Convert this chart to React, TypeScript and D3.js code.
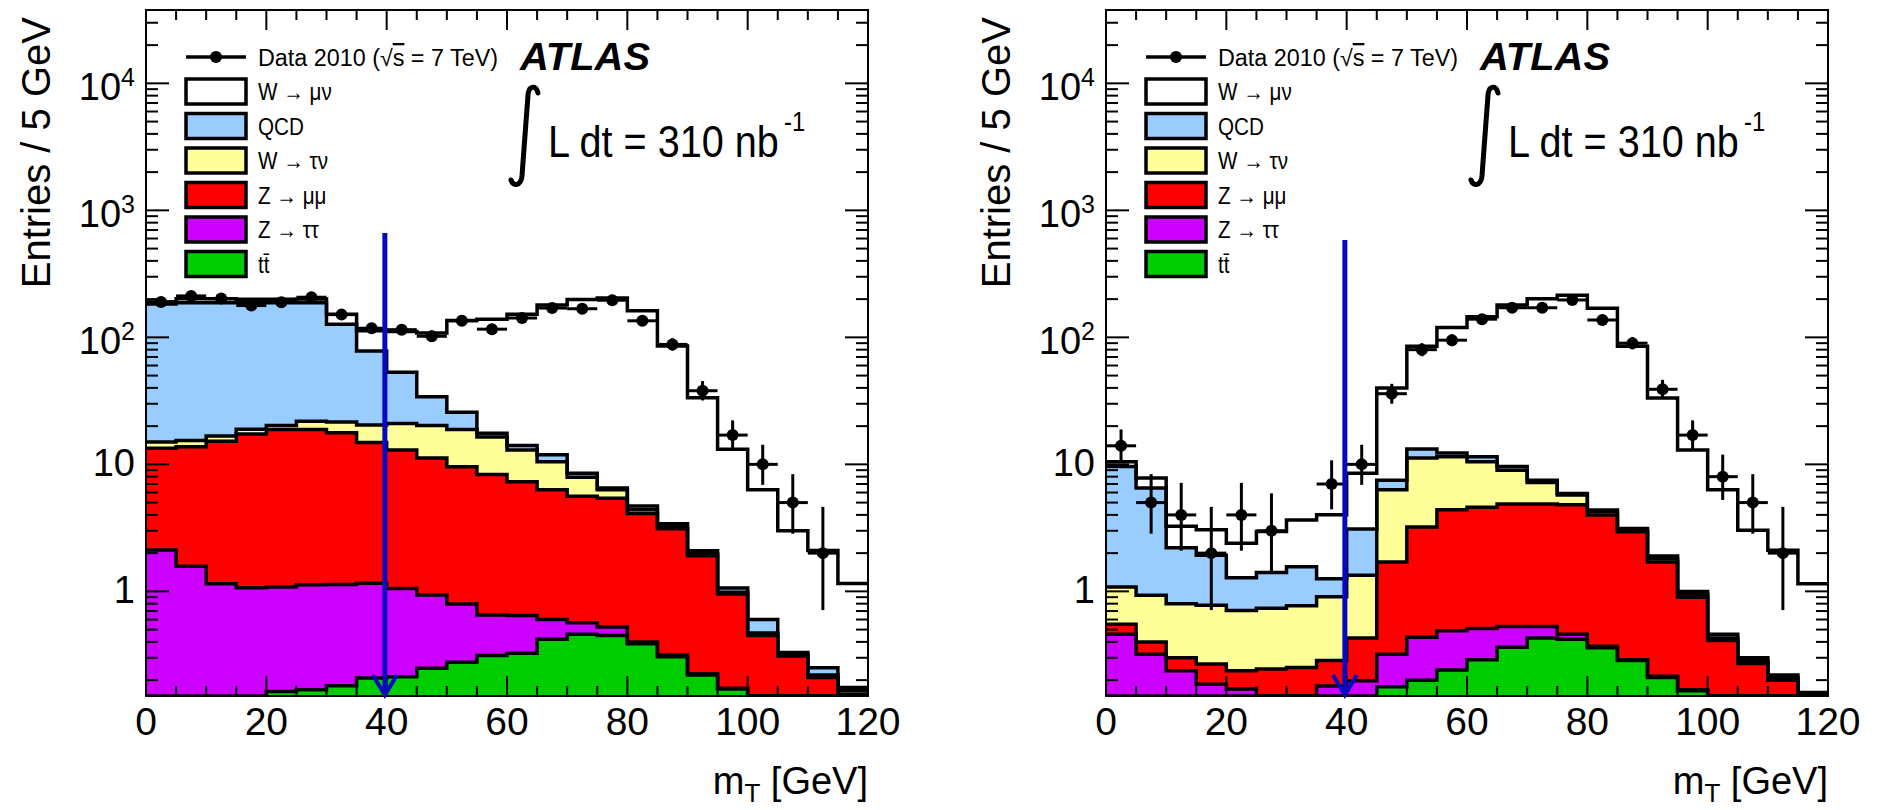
import React from 'react';
import * as d3 from 'd3';

// ---------- data ----------
const BIN_LOW = [0, 5, 10, 15, 20, 25, 30, 35, 40, 45, 50, 55, 60, 65, 70, 75, 80, 85, 90, 95, 100, 105, 110, 115];
const BIN_WIDTH = 5;
const X_TICK_LABELS = [0, 20, 40, 60, 80, 100, 120];
const Y_TICK_LABELS = [
  { v: 1, base: '1', exp: '' },
  { v: 10, base: '10', exp: '' },
  { v: 100, base: '10', exp: '2' },
  { v: 1000, base: '10', exp: '3' },
  { v: 10000, base: '10', exp: '4' },
];

// left panel (stack components, events / 5 GeV)
const ttL = [0, 0, 0, 0, 0.163, 0.168, 0.181, 0.208, 0.213, 0.248, 0.276, 0.312, 0.326, 0.42, 0.46, 0.45, 0.386, 0.306, 0.22, 0.17, 0, 0, 0, 0];
const zttL = [2.12, 1.58, 1.15, 1.07, 0.92, 0.96, 0.95, 0.95, 0.84, 0.69, 0.52, 0.34, 0.32, 0.18, 0.105, 0.075, 0.014, 0.009, 0.005, 0.003, 0.05, 0.05, 0.05, 0.05];
const zmmL = [11.3, 12.2, 14.05, 16.3, 17.7, 17.7, 16.6, 13.7, 11.9, 10.3, 8.8, 7.65, 6.65, 5.7, 5.04, 4.88, 3.7, 2.79, 1.68, 0.78, 0.4, 0.26, 0.16, 0.105];
const wtnL = [1.6, 1.6, 1.5, 1.5, 1.4, 3.0, 3.8, 5.6, 8.0, 9.0, 9.2, 8.1, 5.7, 4.2, 2.3, 0.9, 0.3, 0.15, 0.07, 0.03, 0.02, 0.01, 0.01, 0.01];
const qcdL = [168, 171.6, 170.3, 168.1, 166.8, 165.2, 105.5, 57.5, 32.1, 13.8, 6.9, 1.2, 1.1, 1.4, 0.6, 0.2, 0.3, 0.15, 0.11, 0.08, 0.13, 0.01, 0.03, 0.01];
const wmnL = [7, 14, 14, 13, 13, 13, 25, 35, 58, 74, 110, 121, 138, 168, 190, 198, 157, 82, 31.4, 12.1, 5.7, 2.67, 1.85, 0.98];
const dataL = [190, 212, 202, 178, 189, 207, 151, 118, 115, 102, 135, 116, 142, 170, 168, 196, 135, 88, 38, 17, 10, 5, 2, 0];

// right panel
const ttR = [0, 0, 0, 0, 0, 0, 0, 0, 0, 0.177, 0.2, 0.24, 0.29, 0.363, 0.43, 0.42, 0.36, 0.285, 0.21, 0.165, 0, 0, 0, 0];
const zttR = [0.46, 0.32, 0.237, 0.186, 0.17, 0.12, 0.12, 0.18, 0.198, 0.143, 0.235, 0.25, 0.22, 0.167, 0.1, 0.04, 0.01, 0.005, 0.005, 0.003, 0.05, 0.05, 0.05, 0.05];
const zmmR = [0.09, 0.08, 0.063, 0.082, 0.067, 0.125, 0.132, 0.105, 0.232, 1.38, 2.77, 3.91, 4.09, 4.34, 4.34, 4.34, 3.63, 2.66, 1.49, 0.73, 0.36, 0.22, 0.15, 0.1];
const wtnR = [0.53, 0.53, 0.5, 0.51, 0.47, 0.49, 0.52, 0.62, 0.91, 4.6, 8.0, 7.1, 5.9, 4.13, 2.33, 0.95, 0.24, 0.05, 0.1, 0.05, 0.02, 0.015, 0.01, 0.005];
const qcdR = [8.52, 5.57, 1.4, 1.15, 0.57, 0.67, 0.79, 0.35, 1.76, 1.2, 2.0, 0.8, 1.0, 0.6, 0.3, 0.15, 0.13, 0.13, 0.09, 0.05, 0.03, 0.015, 0.01, 0.005];
const wmnR = [0.9, 1.3, 1.05, 1.13, 1.12, 1.55, 2.09, 2.75, 5.4, 32.5, 71.8, 107, 134, 170, 194, 209, 165, 82, 31.4, 12.0, 5.84, 2.73, 1.89, 0.99];
const dataR = [14, 5, 4, 2, 4, 3, 0, 7, 10, 36, 80, 95, 139, 171, 171, 197, 137, 90, 39, 17, 8, 5, 2, 0];

const KEYS = ['tt', 'ztt', 'zmm', 'wtn', 'qcd', 'wmn'];
const COLORS: Record<string, string> = {
  wmn: '#ffffff',
  qcd: '#99ccff',
  wtn: '#ffff99',
  zmm: '#ff0000',
  ztt: '#cc00ff',
  tt: '#00cc00',
};
const LEGEND = [
  { key: 'wmn', label: 'W \u2192 \u03bc\u03bd' },
  { key: 'qcd', label: 'QCD' },
  { key: 'wtn', label: 'W \u2192 \u03c4\u03bd' },
  { key: 'zmm', label: 'Z \u2192 \u03bc\u03bc' },
  { key: 'ztt', label: 'Z \u2192 \u03c4\u03c4' },
  { key: 'tt', label: 't\u0074\u0304' },
];

// ---------- layout ----------
const FONT = "'Liberation Sans', Arial, Helvetica, sans-serif";
const PANEL_W = 722;
const TOP = 10;
const BOTTOM = 696;
const Y_MIN = 0.15;
const Y_MAX = 37800;
const CUT = 39.7;
const LINE_W = 3.5;

// Poisson (Garwood-like) interval via Wilson-Hilferty
function poissonLo(n: number) {
  if (n <= 0) return 0;
  return n * Math.pow(1 - 1 / (9 * n) - 1 / (3 * Math.sqrt(n)), 3);
}
function poissonHi(n: number) {
  const m = n + 1;
  return m * Math.pow(1 - 1 / (9 * m) + 1 / (3 * Math.sqrt(m)), 3);
}

type Series = Record<string, number[]>;

function Panel({ x0, series, data, arrowTop }: { x0: number; series: Series; data: number[]; arrowTop: number }) {
  const x = d3.scaleLinear().domain([0, 120]).range([x0, x0 + PANEL_W]);
  const y = d3.scaleLog().domain([Y_MIN, Y_MAX]).range([BOTTOM, TOP]).clamp(true);
  const yy = (v: number) => y(Math.max(v, 1e-4));

  const rows = BIN_LOW.map((lo, i) => {
    const r: any = { lo };
    KEYS.forEach((k) => (r[k] = series[k][i]));
    return r;
  });
  const stacked = d3.stack().keys(KEYS)(rows as any);

  const area = d3
    .area<[number, number]>()
    .x((d) => x(d[0]))
    .y0(BOTTOM + 5)
    .y1((d) => yy(d[1]))
    .curve(d3.curveStepAfter);
  const line = d3
    .line<[number, number]>()
    .x((d) => x(d[0]))
    .y((d) => yy(d[1]))
    .curve(d3.curveStepAfter);

  const layers = stacked.map((layer, li) => {
    const pts: [number, number][] = layer.map((d, i) => [BIN_LOW[i], d[1]]);
    pts.push([120, layer[layer.length - 1][1]]);
    return { key: KEYS[li], pts };
  });
  const drawOrder = layers.slice().reverse();

  const clipId = `clip${x0}`;

  // ticks
  const majorY = [0.1, 1, 10, 100, 1000, 10000].filter((v) => v >= Y_MIN && v <= Y_MAX);
  const minorY: number[] = [];
  [0.1, 1, 10, 100, 1000, 10000].forEach((dec) => {
    for (let k = 2; k <= 9; k++) {
      const v = k * dec;
      if (v >= Y_MIN && v <= Y_MAX) minorY.push(v);
    }
  });
  const xMinor = d3.range(0, 121, 5).filter((v) => v % 20 !== 0);

  const legX = x0 + 40;
  const legTextX = x0 + 112;

  return (
    <g>
      <defs>
        <clipPath id={clipId}>
          <rect x={x0} y={TOP} width={PANEL_W} height={BOTTOM - TOP} />
        </clipPath>
      </defs>
      <g clipPath={`url(#${clipId})`}>
        {drawOrder.map((l) => (
          <path key={'a' + l.key} d={area(l.pts) || ''} fill={COLORS[l.key]} stroke="none" />
        ))}
        {drawOrder.map((l) => (
          <path key={'l' + l.key} d={line(l.pts) || ''} fill="none" stroke="#000" strokeWidth={LINE_W} />
        ))}
        {data.map((n, i) => {
          if (n <= 0) return null;
          const cx = x(BIN_LOW[i] + BIN_WIDTH / 2);
          return (
            <g key={'d' + i}>
              <line x1={cx} x2={cx} y1={yy(poissonLo(n))} y2={yy(poissonHi(n))} stroke="#000" strokeWidth={3} />
              <line x1={x(BIN_LOW[i])} x2={x(BIN_LOW[i] + BIN_WIDTH)} y1={yy(n)} y2={yy(n)} stroke="#000" strokeWidth={3} />
              <circle cx={cx} cy={yy(n)} r={6} fill="#000" />
            </g>
          );
        })}
      </g>

      {/* frame */}
      <rect x={x0} y={TOP} width={PANEL_W} height={BOTTOM - TOP} fill="none" stroke="#000" strokeWidth={2} />
      {majorY.map((v) => (
        <g key={'my' + v}>
          <line x1={x0} x2={x0 + 23} y1={y(v)} y2={y(v)} stroke="#000" strokeWidth={2} />
          <line x1={x0 + PANEL_W} x2={x0 + PANEL_W - 23} y1={y(v)} y2={y(v)} stroke="#000" strokeWidth={2} />
        </g>
      ))}
      {minorY.map((v) => (
        <g key={'ny' + v}>
          <line x1={x0} x2={x0 + 12} y1={y(v)} y2={y(v)} stroke="#000" strokeWidth={2} />
          <line x1={x0 + PANEL_W} x2={x0 + PANEL_W - 12} y1={y(v)} y2={y(v)} stroke="#000" strokeWidth={2} />
        </g>
      ))}
      {X_TICK_LABELS.map((v) => (
        <g key={'mx' + v}>
          <line x1={x(v)} x2={x(v)} y1={BOTTOM} y2={BOTTOM - 20} stroke="#000" strokeWidth={2} />
          <line x1={x(v)} x2={x(v)} y1={TOP} y2={TOP + 20} stroke="#000" strokeWidth={2} />
        </g>
      ))}
      {xMinor.map((v) => (
        <g key={'nx' + v}>
          <line x1={x(v)} x2={x(v)} y1={BOTTOM} y2={BOTTOM - 10} stroke="#000" strokeWidth={2} />
          <line x1={x(v)} x2={x(v)} y1={TOP} y2={TOP + 10} stroke="#000" strokeWidth={2} />
        </g>
      ))}

      {/* tick labels */}
      {X_TICK_LABELS.map((v) => (
        <text key={'xl' + v} x={x(v)} y={735} textAnchor="middle" fontFamily={FONT} fontSize={39}>
          {v}
        </text>
      ))}
      {Y_TICK_LABELS.map((t) => (
        <text key={'yl' + t.v} x={x0 - 11} y={y(t.v) + (t.exp ? 17 : 12)} textAnchor="end" fontFamily={FONT} fontSize={38}>
          {t.base}
          {t.exp ? (
            <tspan dy={-14} fontSize={25}>
              {t.exp}
            </tspan>
          ) : null}
        </text>
      ))}

      {/* axis titles */}
      <text x={x0 + PANEL_W} y={794} textAnchor="end" fontFamily={FONT} fontSize={38}>
        m<tspan dy={8} fontSize={26}>T</tspan>
        <tspan dy={-8}> [GeV]</tspan>
      </text>
      <text
        transform={`translate(${x0 - 96},17) rotate(-90)`}
        textAnchor="end"
        fontFamily={FONT}
        fontSize={40}
      >
        Entries / 5 GeV
      </text>

      {/* legend */}
      <line x1={legX} x2={legX + 60} y1={57} y2={57} stroke="#000" strokeWidth={3.5} />
      <circle cx={legX + 30} cy={57} r={6} fill="#000" />
      <text x={legTextX} y={66} fontFamily={FONT} fontSize={23} textLength={240} lengthAdjust="spacingAndGlyphs">
        Data 2010 (<tspan>{'\u221a'}</tspan>
        <tspan style={{ textDecoration: 'overline' }}>s</tspan> = 7 TeV)
      </text>
      {LEGEND.map((e, i) => {
        const top = 79 + i * 34.5;
        return (
          <g key={'lg' + e.key}>
            <rect x={legX} y={top} width={60} height={25} fill={COLORS[e.key]} stroke="#000" strokeWidth={3.5} />
            <text transform={`translate(${legTextX},${top + 21}) scale(0.86,1)`} fontFamily={FONT} fontSize={24}>
              {e.label}
            </text>
          </g>
        );
      })}

      {/* ATLAS label and luminosity */}
      <text x={x0 + 374} y={70} fontFamily={FONT} fontSize={38} fontWeight="bold" fontStyle="italic" textLength={130} lengthAdjust="spacingAndGlyphs">
        ATLAS
      </text>
      <path
        d={`M ${x0 + 392} 93 C ${x0 + 390} 85, ${x0 + 383} 85, ${x0 + 382} 95 L ${x0 + 376} 176 C ${x0 + 375} 186, ${x0 + 367} 187, ${x0 + 365} 180`}
        fill="none"
        stroke="#000"
        strokeWidth={5}
        strokeLinecap="round"
      />
      <text transform={`translate(${x0 + 402},157) scale(0.88,1)`} fontFamily={FONT} fontSize={45}>
        L dt = 310 nb
        <tspan dx={6} dy={-26} fontSize={27}>
          -1
        </tspan>
      </text>

      {/* cut arrow */}
      <line x1={x(CUT)} x2={x(CUT)} y1={arrowTop} y2={BOTTOM - 2} stroke="#0808c0" strokeWidth={5} />
      <polyline
        points={`${x(CUT) - 12},${BOTTOM - 21} ${x(CUT)},${BOTTOM - 1} ${x(CUT) + 12},${BOTTOM - 21}`}
        fill="none"
        stroke="#0808c0"
        strokeWidth={4}
      />
    </g>
  );
}

export default function App() {
  const left: Series = { tt: ttL, ztt: zttL, zmm: zmmL, wtn: wtnL, qcd: qcdL, wmn: wmnL };
  const right: Series = { tt: ttR, ztt: zttR, zmm: zmmR, wtn: wtnR, qcd: qcdR, wmn: wmnR };
  return (
    <svg
      width={1879}
      height={810}
      style={{ position: 'fixed', left: 0, top: 0, display: 'block', background: '#fff' }}
    >
      <rect x={0} y={0} width={1879} height={810} fill="#fff" />
      <Panel x0={146} series={left} data={dataL} arrowTop={233} />
      <Panel x0={1106} series={right} data={dataR} arrowTop={240} />
    </svg>
  );
}
